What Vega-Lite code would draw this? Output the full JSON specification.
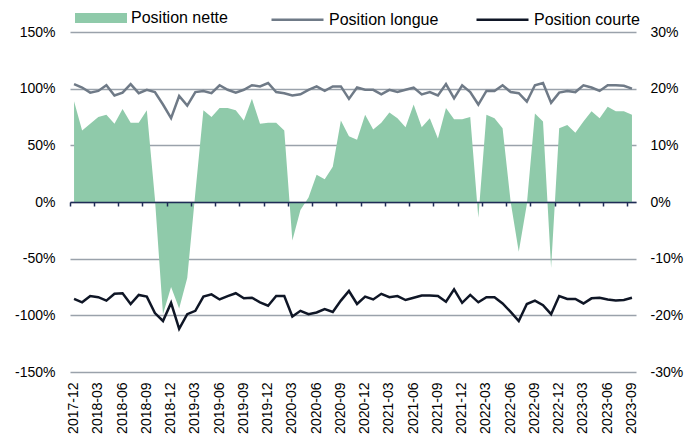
{
  "$schema": "https://vega.github.io/schema/vega-lite/v6.json",
  "width": 566,
  "height": 340,
  "autosize": {"type": "none"},
  "padding": {"left": 70, "top": 32, "right": 51, "bottom": 68},
  "background": "white",
  "config": {
    "view": {"stroke": null},
    "axis": {"labelFont": "Liberation Sans", "labelFontSize": 14, "labelColor": "#000000", "title": null},
    "legend": {"labelFont": "Liberation Sans", "labelFontSize": 16, "labelColor": "#000000"}
  },
  "data": {"values": [
    {"month": "2017-12", "nette": 17.8, "longue": 104, "courte": -85.5},
    {"month": "2018-01", "nette": 12.6, "longue": 101, "courte": -88.5},
    {"month": "2018-02", "nette": 13.8, "longue": 96.5, "courte": -83},
    {"month": "2018-03", "nette": 15, "longue": 98, "courte": -84},
    {"month": "2018-04", "nette": 15.4, "longue": 103, "courte": -87},
    {"month": "2018-05", "nette": 13.8, "longue": 94, "courte": -81},
    {"month": "2018-06", "nette": 16.4, "longue": 96.5, "courte": -80.5},
    {"month": "2018-07", "nette": 14, "longue": 104, "courte": -90},
    {"month": "2018-08", "nette": 14, "longue": 96, "courte": -82},
    {"month": "2018-09", "nette": 16.2, "longue": 99, "courte": -83.5},
    {"month": "2018-10", "nette": 0.6, "longue": 97, "courte": -98},
    {"month": "2018-11", "nette": -19.8, "longue": 86, "courte": -105},
    {"month": "2018-12", "nette": -15, "longue": 74, "courte": -89},
    {"month": "2019-01", "nette": -18.8, "longue": 93.5, "courte": -112},
    {"month": "2019-02", "nette": -13.4, "longue": 85, "courte": -99},
    {"month": "2019-03", "nette": 1.6, "longue": 97, "courte": -96},
    {"month": "2019-04", "nette": 16.2, "longue": 98, "courte": -83.5},
    {"month": "2019-05", "nette": 15, "longue": 96, "courte": -81.5},
    {"month": "2019-06", "nette": 16.6, "longue": 103, "courte": -86},
    {"month": "2019-07", "nette": 16.6, "longue": 99, "courte": -83},
    {"month": "2019-08", "nette": 16.2, "longue": 96.5, "courte": -80.5},
    {"month": "2019-09", "nette": 14.4, "longue": 99, "courte": -85},
    {"month": "2019-10", "nette": 18.2, "longue": 103, "courte": -84.5},
    {"month": "2019-11", "nette": 13.8, "longue": 102, "courte": -88.5},
    {"month": "2019-12", "nette": 14, "longue": 105, "courte": -91.5},
    {"month": "2020-01", "nette": 14, "longue": 97, "courte": -83},
    {"month": "2020-02", "nette": 12.6, "longue": 96, "courte": -83},
    {"month": "2020-03", "nette": -6.8, "longue": 94, "courte": -101},
    {"month": "2020-04", "nette": -1.4, "longue": 95, "courte": -96},
    {"month": "2020-05", "nette": 0.8, "longue": 99, "courte": -99},
    {"month": "2020-06", "nette": 4.8, "longue": 102, "courte": -97.5},
    {"month": "2020-07", "nette": 4, "longue": 98, "courte": -94.5},
    {"month": "2020-08", "nette": 6.2, "longue": 102, "courte": -97},
    {"month": "2020-09", "nette": 14.4, "longue": 102, "courte": -87},
    {"month": "2020-10", "nette": 11.6, "longue": 91, "courte": -78.5},
    {"month": "2020-11", "nette": 11, "longue": 101, "courte": -90},
    {"month": "2020-12", "nette": 15.4, "longue": 99, "courte": -83.5},
    {"month": "2021-01", "nette": 12.8, "longue": 99, "courte": -86},
    {"month": "2021-02", "nette": 14, "longue": 95, "courte": -81},
    {"month": "2021-03", "nette": 15.8, "longue": 99, "courte": -84},
    {"month": "2021-04", "nette": 14.8, "longue": 97, "courte": -83},
    {"month": "2021-05", "nette": 13.2, "longue": 99, "courte": -86.5},
    {"month": "2021-06", "nette": 17.2, "longue": 101, "courte": -84.5},
    {"month": "2021-07", "nette": 13.2, "longue": 95, "courte": -82.5},
    {"month": "2021-08", "nette": 14.8, "longue": 97, "courte": -82.5},
    {"month": "2021-09", "nette": 11.2, "longue": 94, "courte": -83},
    {"month": "2021-10", "nette": 16.6, "longue": 104, "courte": -88},
    {"month": "2021-11", "nette": 14.6, "longue": 91.5, "courte": -77},
    {"month": "2021-12", "nette": 14.6, "longue": 103, "courte": -89},
    {"month": "2022-01", "nette": 15, "longue": 97, "courte": -82},
    {"month": "2022-02", "nette": -2.8, "longue": 86, "courte": -88.5},
    {"month": "2022-03", "nette": 15.4, "longue": 98, "courte": -84},
    {"month": "2022-04", "nette": 14.8, "longue": 98, "courte": -84},
    {"month": "2022-05", "nette": 13, "longue": 103, "courte": -89.5},
    {"month": "2022-06", "nette": 0, "longue": 97, "courte": -97},
    {"month": "2022-07", "nette": -8.8, "longue": 96, "courte": -105},
    {"month": "2022-08", "nette": -0.4, "longue": 88.5, "courte": -90},
    {"month": "2022-09", "nette": 15.6, "longue": 103, "courte": -87},
    {"month": "2022-10", "nette": 14.2, "longue": 105, "courte": -91},
    {"month": "2022-11", "nette": -11.6, "longue": 87.5, "courte": -99},
    {"month": "2022-12", "nette": 13, "longue": 96.5, "courte": -83},
    {"month": "2023-01", "nette": 13.6, "longue": 98, "courte": -85.5},
    {"month": "2023-02", "nette": 12.2, "longue": 97, "courte": -85.5},
    {"month": "2023-03", "nette": 14.2, "longue": 103, "courte": -89.5},
    {"month": "2023-04", "nette": 16, "longue": 101, "courte": -85},
    {"month": "2023-05", "nette": 14.8, "longue": 98, "courte": -84.5},
    {"month": "2023-06", "nette": 16.8, "longue": 103, "courte": -86},
    {"month": "2023-07", "nette": 16, "longue": 103, "courte": -87},
    {"month": "2023-08", "nette": 16, "longue": 102.5, "courte": -86.5},
    {"month": "2023-09", "nette": 15.4, "longue": 100, "courte": -84.5}
  ]},
  "resolve": {"scale": {"y": "independent"}, "axis": {"x": "independent"}},
  "layer": [
    {
      "mark": {"type": "area", "opacity": 1, "interpolate": "linear"},
      "encoding": {
        "x": {"field": "month", "type": "ordinal", "sort": null,
          "scale": {"type": "band", "paddingInner": 0, "paddingOuter": 0},
          "axis": {"orient": "bottom", "offset": -170, "values": ["2017-12","2018-03","2018-06","2018-09","2018-12","2019-03","2019-06","2019-09","2019-12","2020-03","2020-06","2020-09","2020-12","2021-03","2021-06","2021-09","2021-12","2022-03","2022-06","2022-09","2022-12","2023-03","2023-06","2023-09"],
            "labels": false, "domain": true, "domainColor": "#1f2c56", "domainWidth": 1.5, "ticks": true, "tickColor": "#1f2c56", "tickWidth": 1.5, "tickSize": 4, "bandPosition": 0, "grid": false, "zindex": 2}},
        "y": {"field": "nette", "type": "quantitative",
          "scale": {"domain": [-30, 30], "nice": false, "zero": false},
          "axis": {"orient": "right", "values": [-30, -20, -10, 0, 10, 20, 30], "labelExpr": "datum.value + '%'", "domain": false, "ticks": false, "grid": false, "labelPadding": 14}},
        "fill": {"datum": "Position nette", "type": "nominal",
          "scale": {"domain": ["Position nette"], "range": ["#8fcaaa"]},
          "legend": {"title": null, "orient": "none", "legendX": 5, "legendY": -40, "direction": "horizontal", "symbolSize": 2704, "symbolType": "M-1,-0.19H1V0.19H-1Z", "symbolStrokeWidth": 0, "symbolOpacity": 1, "labelOffset": 4}
        }
      }
    },
    {
      "layer": [
        {
          "mark": {"type": "line", "strokeWidth": 2.5},
          "encoding": {
            "x": {"field": "month", "type": "ordinal", "sort": null,
              "scale": {"type": "band", "paddingInner": 0, "paddingOuter": 0},
              "axis": {"orient": "bottom", "values": ["2017-12","2018-03","2018-06","2018-09","2018-12","2019-03","2019-06","2019-09","2019-12","2020-03","2020-06","2020-09","2020-12","2021-03","2021-06","2021-09","2021-12","2022-03","2022-06","2022-09","2022-12","2023-03","2023-06","2023-09"],
                "labelAngle": -90, "labelAlign": "right", "labelBaseline": "middle", "labelPadding": 10, "domain": false, "ticks": false, "grid": false, "bandPosition": 0.5}},
            "y": {"field": "longue", "type": "quantitative",
              "scale": {"domain": [-150, 150], "nice": false, "zero": false},
              "axis": {"orient": "left", "values": [-150, -100, -50, 0, 50, 100, 150], "labelExpr": "datum.value + '%'", "domain": false, "ticks": false, "grid": true, "gridColor": "#9aa2ab", "gridWidth": 1.5, "labelPadding": 15}},
            "stroke": {"datum": "Position longue", "type": "nominal",
              "scale": {"domain": ["Position longue", "Position courte"], "range": ["#6f7a87", "#0f1626"]},
              "legend": {"title": null, "orient": "none", "legendX": 200, "legendY": -40, "direction": "horizontal", "columnPadding": 32, "symbolSize": 2704, "symbolType": "stroke", "symbolStrokeWidth": 2.5, "symbolOpacity": 1, "labelOffset": 4}}
          }
        },
        {
          "mark": {"type": "line", "strokeWidth": 2.5},
          "encoding": {
            "x": {"field": "month", "type": "ordinal", "sort": null},
            "y": {"field": "courte", "type": "quantitative"},
            "stroke": {"datum": "Position courte", "type": "nominal"}
          }
        }
      ]
    }
  ]
}
